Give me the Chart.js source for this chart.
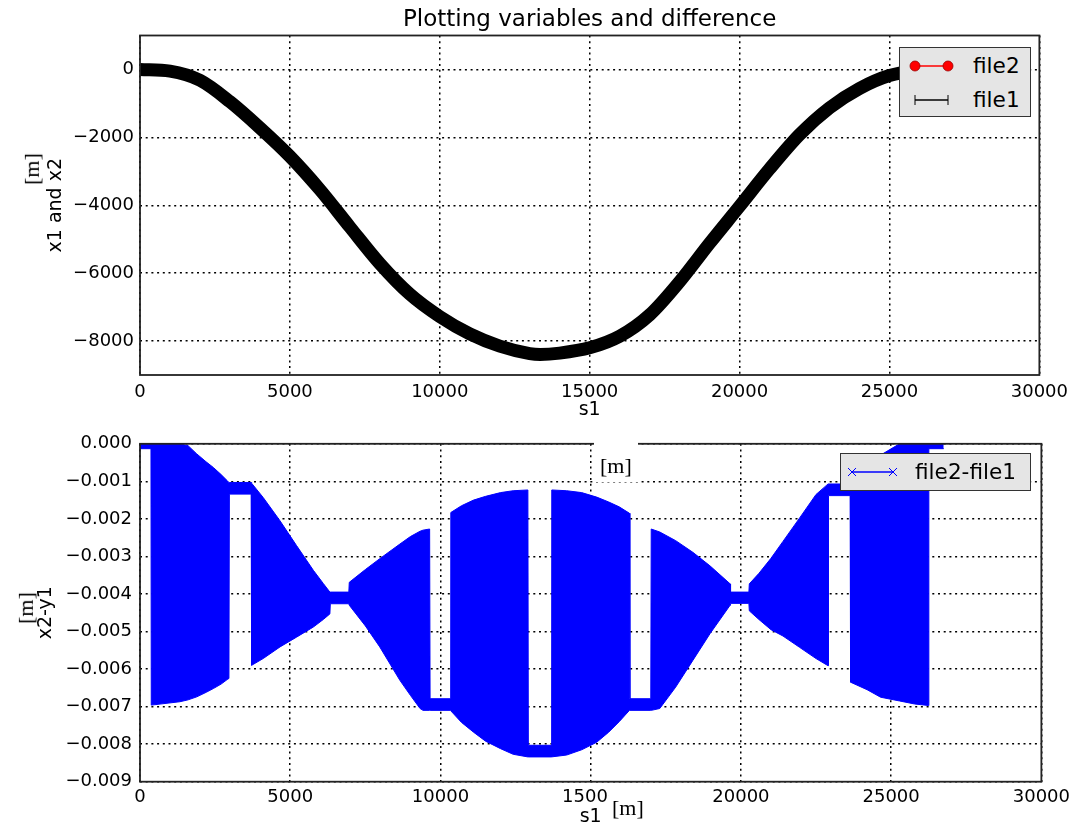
<!DOCTYPE html>
<html>
<head>
<meta charset="utf-8">
<script src="https://cdn.jsdelivr.net/npm/chart.js@4/dist/chart.umd.min.js"></script>
<style>
html,body{margin:0;padding:0;background:#fff;}
#wrap{position:relative;width:1075px;height:827px;overflow:hidden;background:#fff;font-family:"DejaVu Sans",sans-serif;}
canvas{position:absolute;left:0;}
.abs{position:absolute;}
.lgbox{position:absolute;background:#e5e5e5;border:1.5px solid #333;box-sizing:border-box;}
.lgtext{position:absolute;font-size:21.6px;line-height:24px;height:24px;color:#000;white-space:nowrap;}
.unit{position:absolute;font-family:"Liberation Serif","DejaVu Serif",serif;font-size:22px;line-height:22px;color:#000;white-space:nowrap;}
</style>
</head>
<body>
<div id="wrap">
  <canvas id="c1" width="1075" height="425" style="top:0px"></canvas>
  <canvas id="c2" width="1075" height="402" style="top:425px"></canvas>

  <!-- top legend -->
  <div class="lgbox" style="left:899px;top:47px;width:132px;height:70px;"></div>
  <svg class="abs" style="left:0;top:0;" width="1075" height="827">
    <line x1="915" y1="66" x2="948" y2="66" stroke="#ff0000" stroke-width="1.5"/>
    <circle cx="915" cy="66" r="5" fill="#ff0000" stroke="#990000" stroke-width="0.8"/>
    <circle cx="948" cy="66" r="5" fill="#ff0000" stroke="#990000" stroke-width="0.8"/>
    <line x1="915" y1="100" x2="948" y2="100" stroke="#000" stroke-width="1.5"/>
    <line x1="915" y1="95" x2="915" y2="105" stroke="#000" stroke-width="1"/>
    <line x1="948" y1="95" x2="948" y2="105" stroke="#000" stroke-width="1"/>
  </svg>
  <div class="lgtext" style="left:973px;top:54px;">file2</div>
  <div class="lgtext" style="left:973px;top:88px;">file1</div>

  <!-- bottom legend -->
  <div class="lgbox" style="left:840px;top:453px;width:191px;height:38px;"></div>
  <svg class="abs" style="left:0;top:0;" width="1075" height="827">
    <line x1="852" y1="472" x2="893" y2="472" stroke="#0000ff" stroke-width="1.5"/>
    <path d="M848 468 L856 476 M848 476 L856 468 M889 468 L897 476 M889 476 L897 468" stroke="#0000ff" stroke-width="1" fill="none"/>
  </svg>
  <div class="lgtext" style="left:915px;top:460px;">file2-file1</div>

  <!-- unit overlays -->
  <div class="unit" style="left:16px;top:158px;transform:rotate(-90deg);transform-origin:center;background:#fff;">[m]</div>
  <div class="unit" style="left:10px;top:597px;transform:rotate(-90deg);transform-origin:center;background:#fff;">[m]</div>
  <div class="abs" style="left:594px;top:441px;width:44px;height:41px;background:#fff;"></div>
  <div class="unit" style="left:600px;top:455px;">[m]</div>
  <div class="abs" style="left:609px;top:785px;width:40px;height:42px;background:#fff;"></div>
  <div class="unit" style="left:612px;top:797px;">[m]</div>
</div>

<script>
// ---------------- data ----------------
const titleText = 'Plotting variables and difference';

const xTickValues = [0, 5000, 10000, 15000, 20000, 25000, 30000];
const yTickValuesTop = [0, -2000, -4000, -6000, -8000];
const yTickValuesBottom = [0, -0.001, -0.002, -0.003, -0.004, -0.005, -0.006, -0.007, -0.008, -0.009];

// top panel: s1 positions and the two variables
const sTop = [0, 1000, 2000, 3000, 4000, 5000, 6000, 7000, 8000, 9000, 10000, 11000, 12000, 13000,
  13350, 14000, 15000, 16000, 17000, 18000, 19000, 20000, 21000, 22000, 23000, 24000, 25000, 26000, 26300];
const file1Values = [0, -50, -320, -950, -1720, -2560, -3540, -4640, -5720, -6620, -7280, -7790, -8150, -8370,
  -8395, -8355, -8200, -7860, -7230, -6250, -5120, -4030, -2930, -1920, -1130, -560, -180, -20, 0];
const file2Values = [0, -50, -320, -950, -1720, -2560, -3540, -4640, -5720, -6620, -7280, -7790, -8150, -8370,
  -8395, -8355, -8200, -7860, -7230, -6250, -5120, -4030, -2930, -1920, -1130, -560, -180, -20, 0];

// bottom panel: envelope of the (densely oscillating) difference file2-file1
const sDiff = [0, 365, 375, 1330, 1600, 1890, 2200, 2440, 2700, 2900, 2960,
  2975, 3700,
  3715, 4100, 4660, 5210, 5770, 6100, 6320,
  6335, 6950,
  6965, 7500, 7980, 8650, 9000, 9320, 9420, 9640,
  9655, 10330,
  10345, 10700, 11100, 11500, 12000, 12420, 12910,
  12925, 13690,
  13705, 14200, 14700, 15200, 15600, 15950, 16290,
  16305, 17000,
  17015, 17300, 17830, 18400, 18970, 19640,
  19655, 20265,
  20280, 20600, 21000, 21400, 21950, 22500, 22900,
  22915, 23635,
  23650, 24200, 24650, 25280, 25780, 26240,
  26255, 26750];
const diffUpper = [0, 0, 0, 0, -0.00005, -0.00027, -0.00048, -0.00063, -0.00082, -0.00098, -0.00103,
  -0.00103, -0.00103,
  -0.00105, -0.00143, -0.00205, -0.00271, -0.00337, -0.00372, -0.00395,
  -0.00395, -0.00395,
  -0.00369, -0.00335, -0.00306, -0.00267, -0.00247, -0.00233, -0.00230, -0.00227,
  -0.00679, -0.00679,
  -0.00183, -0.00165, -0.00150, -0.00140, -0.00130, -0.00125, -0.00123,
  -0.00803, -0.00803,
  -0.00123, -0.00125, -0.00130, -0.00142, -0.00155, -0.00168, -0.00185,
  -0.00679, -0.00679,
  -0.00227, -0.00235, -0.00258, -0.00289, -0.00325, -0.00373,
  -0.00395, -0.00395,
  -0.00373, -0.00345, -0.00305, -0.00260, -0.00198, -0.00135, -0.00107,
  -0.00107, -0.00107,
  -0.00107, -0.00063, -0.00030, 0, 0, 0,
  0, 0];
const diffLower = [-0.00013, -0.00013, -0.00696, -0.00687, -0.00682, -0.00674, -0.00662, -0.00652, -0.00640, -0.00628, -0.00625,
  -0.00134, -0.00134,
  -0.00590, -0.00572, -0.00541, -0.00515, -0.00488, -0.00468, -0.00453,
  -0.00426, -0.00426,
  -0.00430, -0.00485, -0.00541, -0.00630, -0.00670, -0.00705, -0.00710, -0.00710,
  -0.00710, -0.00710,
  -0.00710, -0.00742, -0.00768, -0.00792, -0.00812, -0.00827, -0.00834,
  -0.00834, -0.00834,
  -0.00834, -0.00829, -0.00815, -0.00795, -0.00768, -0.00740, -0.00710,
  -0.00710, -0.00710,
  -0.00710, -0.00705, -0.00648, -0.00577, -0.00506, -0.00430,
  -0.00425, -0.00425,
  -0.00445, -0.00468, -0.00495, -0.00512, -0.00542, -0.00572, -0.00591,
  -0.00138, -0.00138,
  -0.00635, -0.00655, -0.00675, -0.00685, -0.00693, -0.00697,
  -0.00013, -0.00013];

// ---------------- rendering ----------------
Chart.defaults.font.family = '"DejaVu Sans", sans-serif';
Chart.defaults.color = '#000';

const MINUS = '\u2212';
const frame = {
  id: 'frame',
  afterDraw(chart) {
    const {ctx, chartArea: a} = chart;
    ctx.save();
    ctx.strokeStyle = '#222';
    ctx.lineWidth = 1.8;
    ctx.strokeRect(a.left, a.top, a.right - a.left, a.bottom - a.top);
    ctx.restore();
  }
};

function xScale(h, titlePad, tickPad) {
  return {
    type: 'linear', min: 0, max: 30000, z: 1,
    afterBuildTicks: s => { s.ticks = xTickValues.map(v => ({value: v})); },
    afterFit: s => { s.height = h; },
    ticks: { font: {size: 18}, padding: tickPad, maxRotation: 0, autoSkip: false, callback: v => String(v) },
    grid: { color: '#000', lineWidth: 1.5, drawTicks: false },
    border: { display: false, dash: [2, 3.7] },
    title: { display: true, text: 's1', font: {size: 19, lineHeight: 1}, padding: {top: 0, bottom: titlePad} }
  };
}

function yScale(min, max, tickVals, fmt, titleText, titlePadTop, tickPad) {
  return {
    type: 'linear', min: min, max: max, z: 1,
    afterBuildTicks: s => { s.ticks = tickVals.map(v => ({value: v})); },
    afterFit: s => { s.width = 140; },
    ticks: { font: {size: 18}, padding: tickPad, autoSkip: false, callback: fmt },
    grid: { color: '#000', lineWidth: 1.5, drawTicks: false },
    border: { display: false, dash: [2, 3.7] },
    title: { display: true, text: titleText, font: {size: 19, lineHeight: 1}, padding: {top: titlePadTop, bottom: 0} }
  };
}

new Chart(document.getElementById('c1'), {
  type: 'line',
  data: {
    datasets: [
      { label: 'file2', data: sTop.map((s, i) => ({x: s, y: file2Values[i]})),
        borderColor: '#ff0000', borderWidth: 1.5, pointRadius: 0, order: 2,
        cubicInterpolationMode: 'monotone' },
      { label: 'file1', data: sTop.map((s, i) => ({x: s, y: file1Values[i]})),
        borderColor: '#000000', borderWidth: 13, pointRadius: 0, order: 1,
        cubicInterpolationMode: 'monotone', clip: 0 }
    ]
  },
  options: {
    responsive: false, animation: false, devicePixelRatio: 1,
    layout: { padding: {left: 0, right: 33, top: 0, bottom: 0} },
    plugins: {
      legend: { display: false }, tooltip: { enabled: false },
      title: { display: true, fullSize: false, text: titleText, color: '#000',
        font: {size: 23, weight: 'normal', lineHeight: 1.2}, padding: {top: 6, bottom: 1.9} }
    },
    scales: {
      x: xScale(50, 5, 7),
      y: yScale(-9000, 1000, yTickValuesTop, v => (v < 0 ? MINUS + Math.abs(v) : String(v)), 'x1 and x2', 46.5, 6)
    }
  },
  plugins: [frame]
});

new Chart(document.getElementById('c2'), {
  type: 'line',
  data: {
    datasets: [
      { label: 'upper', data: sDiff.map((s, i) => ({x: s, y: diffUpper[i]})),
        borderColor: '#0000ff', borderWidth: 1, pointRadius: 0, fill: false, clip: 0 },
      { label: 'file2-file1', data: sDiff.map((s, i) => ({x: s, y: diffLower[i]})),
        borderColor: '#0000ff', borderWidth: 1, pointRadius: 0, fill: '-1',
        backgroundColor: '#0000ff', clip: 0 }
    ]
  },
  options: {
    responsive: false, animation: false, devicePixelRatio: 1,
    layout: { padding: {left: 0, right: 33, top: 18, bottom: 0} },
    plugins: { legend: { display: false }, tooltip: { enabled: false }, title: { display: false } },
    scales: {
      x: xScale(45.3, 0, 5),
      y: yScale(-0.009, 0, yTickValuesBottom, v => (v < 0 ? MINUS : '') + Math.abs(v).toFixed(3), 'x2-y1', 36.5, 8)
    }
  },
  plugins: [frame]
});
</script>
</body>
</html>
